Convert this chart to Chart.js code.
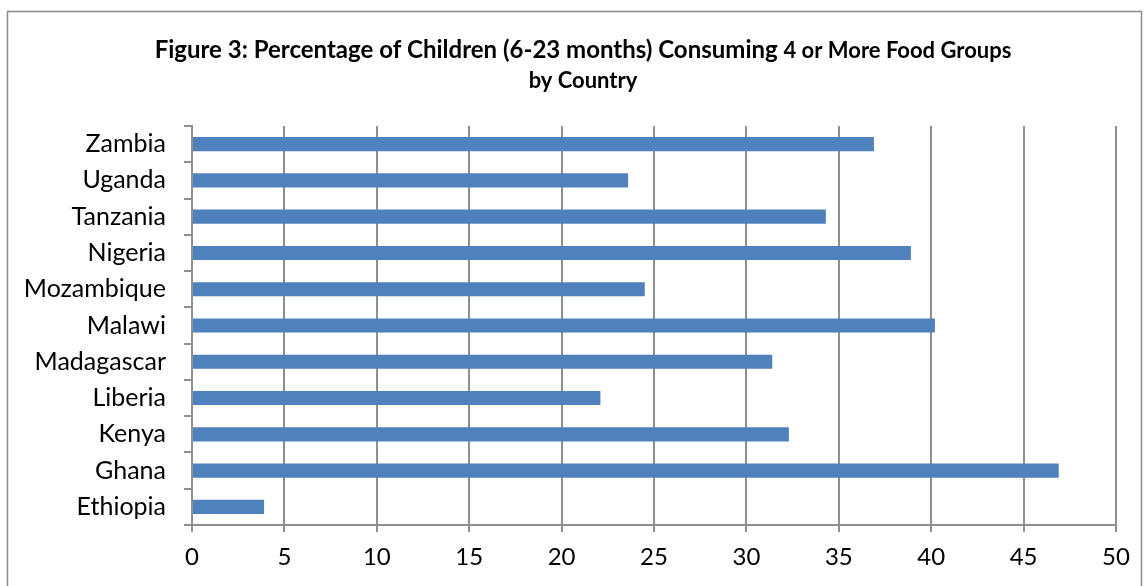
<!DOCTYPE html>
<html>
<head>
<meta charset="utf-8">
<script src="https://cdn.jsdelivr.net/npm/chart.js@4.4.1/dist/chart.umd.min.js"></script>
<style>
  html, body { margin: 0; padding: 0; background: #ffffff; }
  #wrap { width: 1145px; height: 586px; }
</style>
</head>
<body>
<div id="wrap"><canvas id="c" width="1145" height="586"></canvas></div>
<script>
// ---- Data ----
const categories = ['Zambia', 'Uganda', 'Tanzania', 'Nigeria', 'Mozambique', 'Malawi', 'Madagascar', 'Liberia', 'Kenya', 'Ghana', 'Ethiopia'];
const percentages = [36.9, 23.6, 34.3, 38.9, 24.5, 40.2, 31.4, 22.1, 32.3, 46.9, 3.9];
const xTicks = [0, 5, 10, 15, 20, 25, 30, 35, 40, 45, 50];
const titleMain = 'Figure 3: Percentage of Children (6-23 months) Consuming ';
const titleSmall = '4 or More Food Groups';
const titleLine2 = 'by Country';

const FONT = 'Lato, "Open Sans", sans-serif';
const GRID = '#8f8f8f';

const framePlugin = {
  id: 'frameAndTitle',
  beforeDraw(chart) {
    const ctx = chart.ctx;
    ctx.save();
    ctx.fillStyle = '#ffffff';
    ctx.fillRect(0, 0, chart.width, chart.height);
    ctx.strokeStyle = '#8a8a8a';
    ctx.lineWidth = 1.5;
    ctx.strokeRect(7.5, 11.5, 1134, 600);
    ctx.restore();
  },
  afterDraw(chart) {
    const ctx = chart.ctx;
    ctx.save();
    ctx.fillStyle = '#000000';
    ctx.textBaseline = 'alphabetic';
    const fA = 'bold 24px ' + FONT;
    const fB = 'bold 22px ' + FONT;
    ctx.font = fA;
    const wA = ctx.measureText(titleMain).width;
    ctx.font = fB;
    const wB = ctx.measureText(titleSmall).width;
    const cx = 583;
    let x = cx - (wA + wB) / 2;
    ctx.textAlign = 'left';
    ctx.font = fA;
    ctx.fillText(titleMain, x, 58);
    ctx.font = fB;
    ctx.fillText(titleSmall, x + wA, 58);
    ctx.textAlign = 'center';
    ctx.font = fB;
    ctx.fillText(titleLine2, cx, 88);
    ctx.restore();
  }
};

new Chart(document.getElementById('c'), {
  type: 'bar',
  data: {
    labels: categories,
    datasets: [{
      data: percentages,
      backgroundColor: '#4F81BD',
      borderWidth: 0,
      categoryPercentage: 1.0,
      barPercentage: 0.39
    }]
  },
  options: {
    indexAxis: 'y',
    responsive: false,
    animation: false,
    layout: { padding: { top: 126, right: 29, left: 0, bottom: 0 } },
    plugins: {
      legend: { display: false },
      title: { display: false },
      tooltip: { enabled: false }
    },
    scales: {
      x: {
        min: 0,
        max: 50,
        afterFit: (s) => { s.height = 61; },
        afterBuildTicks: (s) => { s.ticks = xTicks.map(v => ({ value: v })); },
        grid: { color: GRID, lineWidth: 2, tickLength: 7, drawTicks: true },
        border: { color: GRID, width: 2 },
        ticks: { color: '#000000', font: { family: FONT, size: 24 }, padding: 11 }
      },
      y: {
        afterFit: (s) => { s.width = 192; },
        offset: true,
        grid: { display: true, drawOnChartArea: false, offset: true, color: GRID, lineWidth: 2, tickLength: 8 },
        border: { color: GRID, width: 2 },
        ticks: { color: '#000000', font: { family: FONT, size: 25 }, padding: 18 }
      }
    }
  },
  plugins: [framePlugin]
});
</script>
</body>
</html>
